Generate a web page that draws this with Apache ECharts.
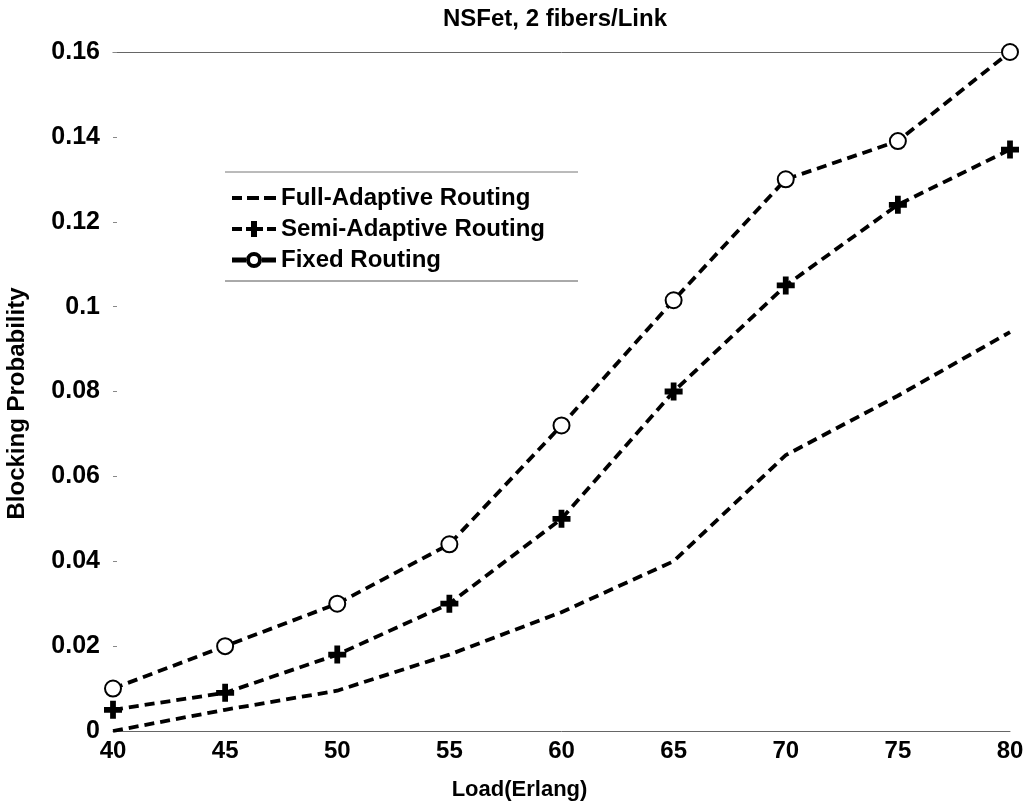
<!DOCTYPE html>
<html><head><meta charset="utf-8">
<script src="https://cdn.jsdelivr.net/npm/echarts@6/dist/echarts.min.js"></script>
<style>html,body{margin:0;padding:0;background:#fff}#c{width:1034px;height:808px}</style>
</head><body><div id="c"></div>
<script>
const loads = [40, 45, 50, 55, 60, 65, 70, 75, 80];
const fullAdaptive = [0.0, 0.005, 0.0095, 0.018, 0.028, 0.04, 0.065, 0.079, 0.094];
const semiAdaptive = [0.005, 0.009, 0.018, 0.03, 0.05, 0.08, 0.105, 0.124, 0.137];
const fixedRouting = [0.01, 0.02, 0.03, 0.044, 0.072, 0.1015, 0.13, 0.139, 0.16];
const seriesNames = ['Full-Adaptive Routing', 'Semi-Adaptive Routing', 'Fixed Routing'];
const yTicks = ['0', '0.02', '0.04', '0.06', '0.08', '0.1', '0.12', '0.14', '0.16'];

const font = 'Liberation Sans, Arial, sans-serif';
const chart = echarts.init(document.getElementById('c'));
const pair = arr => arr.map((v, i) => [loads[i], v]);
const plusPath = 'path://M3.4,0H6.6V3.4H10V6.6H6.6V10H3.4V6.6H0V3.4H3.4Z';
const ls = {color: '#000', width: 3.8, type: [10, 6]};

// legend icons (44 x 20 boxes)
const box = 'M0,0L0.01,0L0.01,0.01Z M44,20L43.99,20L43.99,19.99Z ';
const iconFull = 'path://' + box + 'M0,8H10V12H0Z M15,8H27V12H15Z M32,8H44V12H32Z';
const iconSemi = 'path://' + box + 'M0,8H10V12H0Z M14,8H19V2H25V8H31V12H25V18H19V12H14Z M35,8H44V12H35Z';
const iconFixed = 'path://' + box + 'M0,7.5H14V12.5H0Z M30,7.5H44V12.5H30Z M14,10A8,8 0 1,0 30,10A8,8 0 1,0 14,10Z M18,10A4,4 0 1,1 26,10A4,4 0 1,1 18,10Z';

chart.setOption({
  animation: false,
  backgroundColor: '#fff',
  title: {text: 'NSFet, 2 fibers/Link', left: 550, textAlign: 'center', top: 2,
    textStyle: {fontFamily: font, fontWeight: 'bold', fontSize: 24, color: '#000'}},
  grid: {left: 113, right: 24, top: 52, bottom: 77, containLabel: false, outerBoundsMode: 'none'},
  legend: {
    orient: 'vertical', left: 227, top: 181, itemWidth: 44, itemHeight: 20, itemGap: 7,
    data: [
      {name: seriesNames[0], icon: iconFull},
      {name: seriesNames[1], icon: iconSemi},
      {name: seriesNames[2], icon: iconFixed}
    ],
    itemStyle: {color: '#000', borderWidth: 0},
    textStyle: {fontFamily: font, fontWeight: 'bold', fontSize: 24, color: '#000'}
  },
  graphic: [
    {type: 'line', shape: {x1: 225, y1: 172, x2: 578, y2: 172}, style: {stroke: '#777', lineWidth: 1}},
    {type: 'line', shape: {x1: 225, y1: 281, x2: 578, y2: 281}, style: {stroke: '#555', lineWidth: 1}}
  ],
  xAxis: [{
    type: 'value', min: 40, max: 80, interval: 5,
    name: 'Load(Erlang)', nameLocation: 'middle', nameGap: 48,
    nameTextStyle: {fontFamily: font, fontWeight: 'bold', fontSize: 22, color: '#000', padding: [0, 84, 0, 0]},
    axisLine: {show: true, lineStyle: {color: '#666', width: 1}},
    axisTick: {show: false},
    splitLine: {show: false},
    axisLabel: {fontFamily: font, fontWeight: 'bold', fontSize: 24, color: '#000', margin: 8}
  }, {
    type: 'value', min: 40, max: 80, position: 'top',
    axisLine: {show: true, lineStyle: {color: '#666', width: 1}},
    axisTick: {show: false}, axisLabel: {show: false}, splitLine: {show: false}
  }],
  yAxis: {
    type: 'value', min: 0, max: 0.16, interval: 0.02,
    name: 'Blocking Probability', nameLocation: 'middle', nameGap: 84,
    nameTextStyle: {fontFamily: font, fontWeight: 'bold', fontSize: 24, color: '#000', padding: [0, 24, 0, 0]},
    axisLine: {show: false},
    axisTick: {show: true, length: 4, inside: true, lineStyle: {color: '#888'}},
    splitLine: {show: false},
    axisLabel: {fontFamily: font, fontWeight: 'bold', fontSize: 25, color: '#000', margin: 13,
      formatter: (v) => yTicks[Math.round(v / 0.02)]}
  },
  series: [
    {name: seriesNames[0], type: 'line', data: pair(fullAdaptive), symbol: 'none',
      lineStyle: ls, itemStyle: {color: '#000'}},
    {name: seriesNames[1], type: 'line', data: pair(semiAdaptive), symbol: plusPath, symbolSize: 18,
      lineStyle: ls, itemStyle: {color: '#000'}},
    {name: seriesNames[2], type: 'line', data: pair(fixedRouting), symbol: 'emptyCircle', symbolSize: 16,
      lineStyle: ls, itemStyle: {color: '#000', borderColor: '#000', borderWidth: 4}}
  ]
});
</script></body></html>
